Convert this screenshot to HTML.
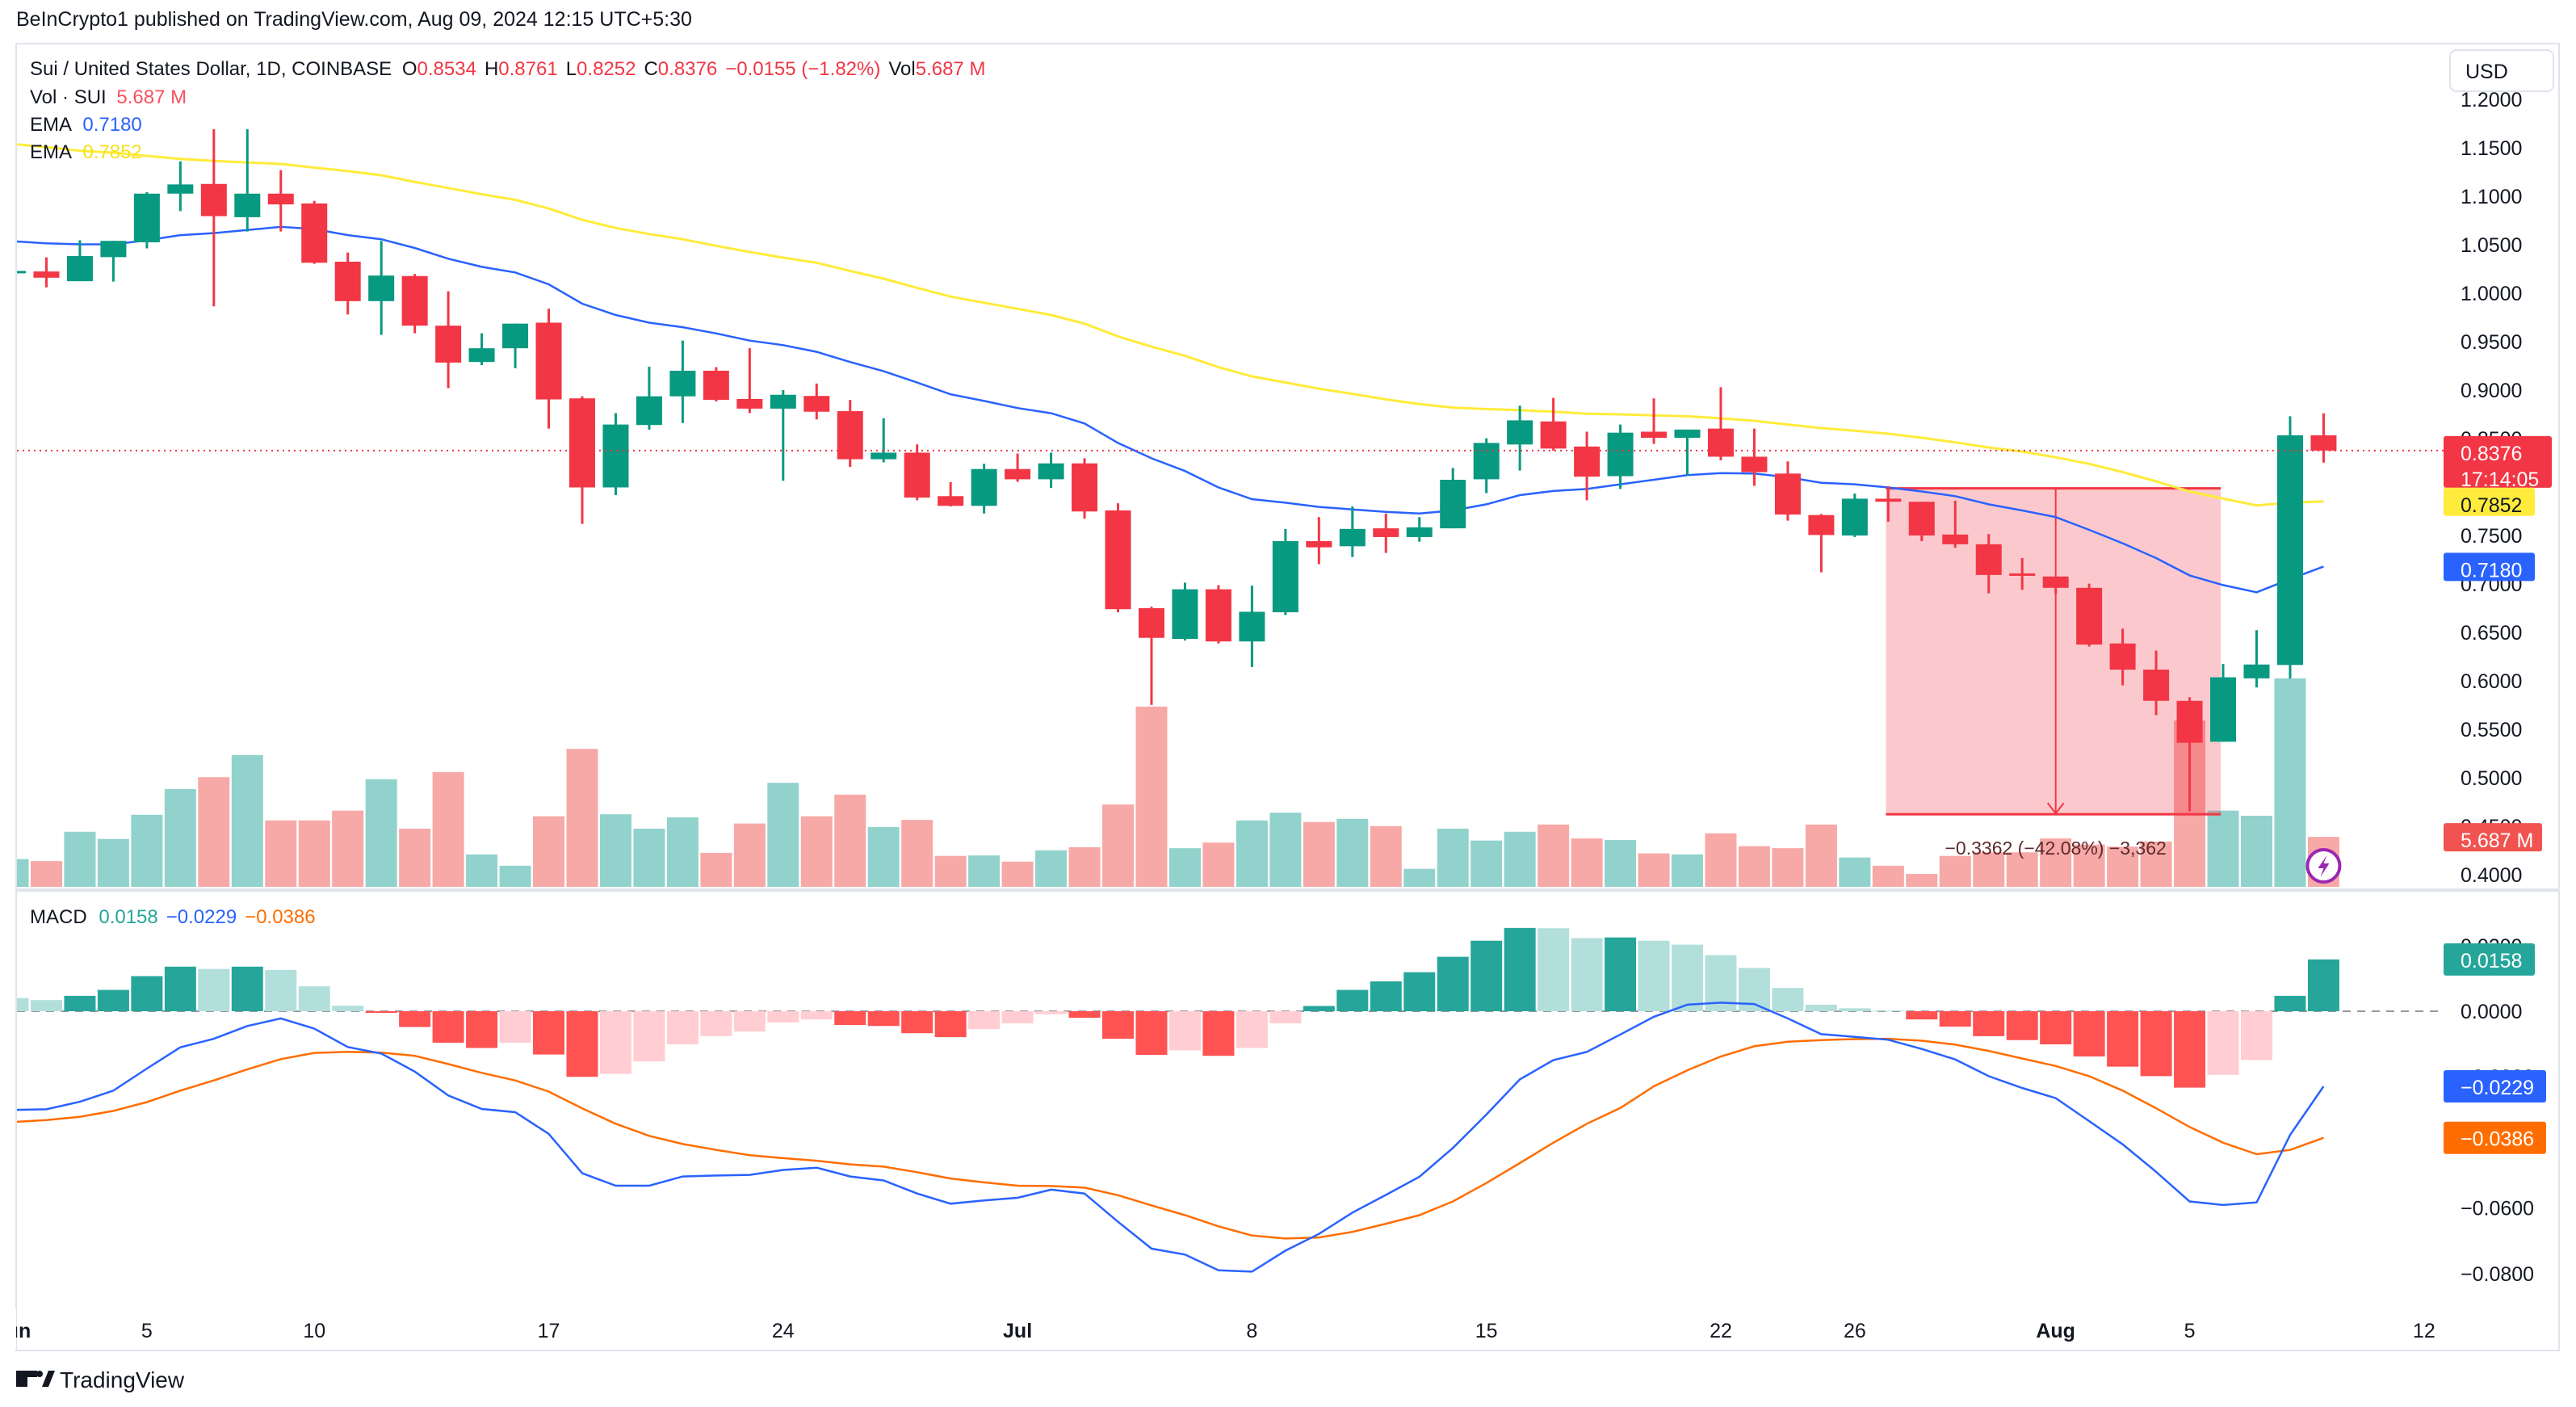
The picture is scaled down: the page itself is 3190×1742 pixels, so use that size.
<!DOCTYPE html>
<html><head><meta charset="utf-8"><title>SUI/USD chart</title>
<style>
html,body{margin:0;padding:0;background:#fff;}
svg{display:block;font-family:"Liberation Sans",sans-serif;}
</style></head>
<body>
<svg id="chart" width="3190" height="1742" viewBox="0 0 3190 1742" xmlns="http://www.w3.org/2000/svg">
<defs><clipPath id="plotClip"><rect x="21" y="55" width="3005" height="1550"/></clipPath></defs>
<rect x="0" y="0" width="3190" height="1742" fill="#ffffff"/>
<text x="20" y="32" font-size="25" fill="#131722">BeInCrypto1 published on TradingView.com, Aug 09, 2024 12:15 UTC+5:30</text>
<rect x="20" y="54" width="3149" height="1618" fill="none" stroke="#e0e3eb" stroke-width="2"/>
<rect x="21" y="1100" width="3148" height="4" fill="#e0e3eb"/>
<g id="plot" clip-path="url(#plotClip)"></g>
<g id="overlay"></g>
<g id="axes"></g>
<g font-size="24">
<text x="37" y="93" fill="#131722">Sui / United States Dollar, 1D, COINBASE <tspan dx="6">O</tspan><tspan fill="#f23645">0.8534</tspan><tspan dx="10">H</tspan><tspan fill="#f23645">0.8761</tspan><tspan dx="10">L</tspan><tspan fill="#f23645">0.8252</tspan><tspan dx="10">C</tspan><tspan fill="#f23645">0.8376</tspan><tspan dx="10" fill="#f23645">−0.0155 (−1.82%)</tspan><tspan dx="10">Vol</tspan><tspan fill="#f23645">5.687 M</tspan></text>
<text x="37" y="128" fill="#131722">Vol · SUI <tspan dx="6" fill="#f7525f">5.687 M</tspan></text>
<text x="37" y="162" fill="#131722">EMA <tspan dx="8" fill="#2962ff">0.7180</tspan></text>
<text x="37" y="196" fill="#131722">EMA <tspan dx="8" fill="#f5e11b">0.7852</tspan></text>
<text x="37" y="1143" fill="#131722">MACD <tspan dx="8" fill="#26a69a">0.0158</tspan><tspan dx="10" fill="#2962ff">−0.0229</tspan><tspan dx="10" fill="#ff6d00">−0.0386</tspan></text>
</g>
<g>
<rect x="3034" y="62" width="128" height="51" rx="8" fill="#fff" stroke="#e0e3eb" stroke-width="2"/>
<text x="3053" y="97" font-size="25" fill="#131722">USD</text>
</g>
<g>
<rect x="20" y="1697" width="14" height="20" fill="#131722"/>
<rect x="20" y="1697" width="26" height="8" fill="#131722"/>
<circle cx="49" cy="1701" r="4" fill="#131722"/>
<polygon points="52,1717 60,1697 68,1697 60,1717" fill="#131722"/>
<text x="74" y="1718" font-size="28" fill="#131722">TradingView</text>
</g>
</svg>
<script>
// ---- data (day index 0 = Jun 1, 2024) ----
var opens  = [1.021,1.0224,1.0124,1.0372,1.0525,1.1027,1.1127,1.0784,1.1027,1.0926,1.0325,0.9918,1.0177,0.9665,0.929,0.9432,0.9696,0.8915,0.7996,0.864,0.8936,0.92,0.8909,0.8809,0.894,0.8783,0.8287,0.8355,0.7906,0.7806,0.8186,0.808,0.8244,0.7759,0.675,0.6433,0.6945,0.6407,0.6708,0.7442,0.7389,0.7574,0.7484,0.7574,0.808,0.8439,0.8677,0.8418,0.8112,0.8571,0.8508,0.8603,0.8313,0.8139,0.7711,0.75,0.788,0.7848,0.751,0.741,0.7109,0.7077,0.696,0.6386,0.6116,0.5794,0.5372,0.6026,0.6164,0.8534];
var highs  = [1.025,1.037,1.0546,1.054,1.1043,1.136,1.1692,1.1692,1.127,1.0953,1.042,1.054,1.0198,1.002,0.9586,0.9686,0.984,0.8936,0.8762,0.9242,0.9511,0.9237,0.9432,0.90,0.9068,0.89,0.871,0.844,0.805,0.824,0.8345,0.8355,0.8297,0.7832,0.6766,0.7014,0.6988,0.6982,0.7568,0.769,0.78,0.7727,0.769,0.8197,0.8503,0.884,0.892,0.8571,0.8645,0.8915,0.8593,0.903,0.8603,0.8265,0.7722,0.7933,0.8007,0.7848,0.7859,0.7515,0.7267,0.7077,0.7003,0.6539,0.6312,0.5831,0.6174,0.6523,0.873,0.8761];
var lows   = [1.019,1.006,1.0124,1.012,1.0462,1.0847,0.9865,1.0636,1.0636,1.0303,0.978,0.957,0.9586,0.902,0.9258,0.9226,0.8603,0.762,0.7917,0.8593,0.866,0.8883,0.8762,0.8065,0.8698,0.8207,0.8255,0.7864,0.78,0.7727,0.8054,0.799,0.7674,0.6708,0.5752,0.6417,0.6386,0.6143,0.668,0.7204,0.7278,0.732,0.7436,0.7574,0.7938,0.817,0.8376,0.7864,0.798,0.8445,0.8117,0.8276,0.8012,0.7653,0.712,0.7484,0.7643,0.7442,0.7373,0.6903,0.694,0.69,0.6354,0.5953,0.5647,0.4654,0.5372,0.5932,0.6026,0.8252];
var closes = [1.023,1.016,1.0383,1.054,1.1027,1.1122,1.0795,1.1027,1.0916,1.0314,0.9918,1.0182,0.9665,0.9284,0.9432,0.9686,0.8904,0.7996,0.8645,0.8936,0.92,0.89,0.8809,0.8952,0.8777,0.8287,0.8355,0.7891,0.7806,0.8186,0.808,0.8244,0.7748,0.674,0.6444,0.6945,0.6407,0.6713,0.7442,0.7378,0.7568,0.7484,0.7584,0.8075,0.8455,0.8688,0.8397,0.8107,0.8561,0.8508,0.8593,0.8313,0.8154,0.7716,0.7505,0.788,0.7848,0.75,0.741,0.7093,0.7104,0.696,0.6375,0.6116,0.5794,0.5361,0.6037,0.6169,0.8534,0.8376];
var volumes = [3.16,2.93,6.27,5.45,8.2,11.13,12.48,15.0,7.56,7.56,8.67,12.25,6.62,13.07,3.69,2.4,8.03,15.7,8.26,6.62,7.91,3.87,7.21,11.84,8.03,10.49,6.8,7.62,3.52,3.57,2.87,4.16,4.51,9.38,20.51,4.4,5.04,7.56,8.44,7.38,7.74,6.91,2.05,6.62,5.27,6.27,7.09,5.51,5.33,3.81,3.69,6.09,4.63,4.4,7.09,3.34,2.4,1.47,3.52,3.93,3.93,5.51,4.81,4.57,5.16,18.93,8.67,8.09,23.73,5.687];
var emaFast = [1.0536,1.0515,1.0504,1.0504,1.0546,1.0599,1.062,1.0652,1.0684,1.0662,1.0599,1.0557,1.0467,1.0356,1.0272,1.0214,1.0092,0.9892,0.9775,0.9696,0.9649,0.9585,0.9511,0.9464,0.9395,0.929,0.9195,0.9078,0.8957,0.8888,0.8815,0.8762,0.8656,0.8455,0.8297,0.8165,0.7996,0.7875,0.7838,0.7795,0.7769,0.7743,0.7727,0.7758,0.7822,0.7917,0.7959,0.798,0.8028,0.8075,0.8123,0.8144,0.8139,0.8101,0.8044,0.8028,0.7996,0.7954,0.7906,0.7822,0.7758,0.769,0.7558,0.742,0.7267,0.7088,0.6988,0.6914,0.7051,0.718];
var emaSlow = [1.1539,1.1507,1.147,1.145,1.1417,1.1386,1.1365,1.1349,1.1333,1.1296,1.1259,1.1217,1.1148,1.1085,1.1021,1.0963,1.0874,1.0757,1.0673,1.061,1.0557,1.0488,1.0425,1.0367,1.0314,1.023,1.015,1.0055,0.9965,0.9902,0.9839,0.9775,0.9686,0.9554,0.9448,0.9353,0.9237,0.9142,0.9078,0.9015,0.8962,0.8904,0.8857,0.882,0.8804,0.8793,0.8777,0.8756,0.875,0.874,0.873,0.8709,0.8683,0.8645,0.8608,0.8582,0.855,0.8508,0.8461,0.8408,0.8366,0.8307,0.8239,0.8154,0.8059,0.7954,0.788,0.7811,0.7838,0.7852];
var histValues = [0.004,0.0034,0.0047,0.0065,0.0107,0.0136,0.0129,0.0136,0.0126,0.0076,0.0017,-0.0005,-0.0048,-0.0096,-0.0112,-0.0096,-0.0132,-0.02,-0.0191,-0.0153,-0.0101,-0.0076,-0.0062,-0.0034,-0.0025,-0.0042,-0.0045,-0.0067,-0.0079,-0.0054,-0.0037,-0.0009,-0.002,-0.0084,-0.0133,-0.0119,-0.0136,-0.0112,-0.0037,0.0016,0.0065,0.0091,0.0119,0.0166,0.0215,0.0254,0.0253,0.0223,0.0225,0.0215,0.0203,0.0171,0.0132,0.0071,0.002,0.0009,0.0002,-0.0025,-0.0047,-0.0076,-0.0088,-0.0101,-0.0138,-0.0169,-0.0198,-0.0233,-0.0194,-0.0149,0.0047,0.0158];
var macdValues = [-0.0301,-0.0299,-0.0276,-0.0242,-0.0175,-0.011,-0.0084,-0.0045,-0.0022,-0.0053,-0.0109,-0.0129,-0.0184,-0.0257,-0.0298,-0.0308,-0.0374,-0.0494,-0.0532,-0.0532,-0.0504,-0.0501,-0.0499,-0.0484,-0.0477,-0.0504,-0.0516,-0.0556,-0.0587,-0.0577,-0.0569,-0.0544,-0.0556,-0.0642,-0.0724,-0.0742,-0.079,-0.0794,-0.073,-0.0679,-0.0614,-0.056,-0.0505,-0.0417,-0.0315,-0.0208,-0.0149,-0.0124,-0.0071,-0.0017,0.002,0.0026,0.0022,-0.0022,-0.007,-0.0078,-0.0087,-0.0115,-0.0147,-0.0198,-0.0234,-0.0265,-0.0335,-0.0406,-0.049,-0.058,-0.0591,-0.0583,-0.0377,-0.0229];
var signalValues = [-0.0338,-0.0332,-0.0322,-0.0304,-0.0277,-0.0242,-0.0211,-0.0177,-0.0146,-0.0127,-0.0124,-0.0126,-0.0136,-0.0161,-0.0188,-0.0211,-0.0245,-0.0296,-0.0343,-0.038,-0.0405,-0.0423,-0.0439,-0.0448,-0.0456,-0.0467,-0.0474,-0.0491,-0.051,-0.0522,-0.0532,-0.0533,-0.0538,-0.0561,-0.0592,-0.0622,-0.0656,-0.0684,-0.0693,-0.069,-0.0673,-0.0648,-0.0622,-0.058,-0.0524,-0.0463,-0.0401,-0.0343,-0.0295,-0.0229,-0.018,-0.0138,-0.0107,-0.0093,-0.0088,-0.0085,-0.0084,-0.009,-0.0102,-0.0121,-0.0144,-0.0167,-0.0198,-0.0242,-0.0296,-0.0353,-0.0401,-0.0436,-0.0423,-0.0386];
var priceTicks = [0.40,0.45,0.50,0.55,0.60,0.65,0.70,0.75,0.80,0.85,0.90,0.95,1.00,1.05,1.10,1.15,1.20];
var macdTicks = [0.02,0,-0.02,-0.04,-0.06,-0.08];
var timeLabelDays = [0,4,9,16,23,30,37,44,51,55,61,65,72];
var timeLabels = ["Jun","5","10","17","24","Jul","8","15","22","26","Aug","5","12"];
var measureStart = 55.93, measureEnd = 65.93, measureTop = 0.7986, measureBottom = 0.4624, measureArrowDay = 61.0;

// ---- axis functions ----
function xD(d){ return 16 + 41.47*d; }
function yP(p){ return 1083 - (p-0.4)*1200; }
function yV(v){ return 1098 - v*10.88; }
function yM(v){ return 1252 - v*4060; }
function fmtM(v){ return (v<0?'\u2212':'') + Math.abs(v).toFixed(4); }

var NS='http://www.w3.org/2000/svg';
function mk(tag, attrs, parent){
  var e=document.createElementNS(NS,tag);
  for(var k in attrs) e.setAttribute(k, attrs[k]);
  parent.appendChild(e); return e;
}
var plot=document.getElementById('plot');
var overlay=document.getElementById('overlay');
var axes=document.getElementById('axes');

// volume bars
for(var i=0;i<volumes.length;i++){
  var up=closes[i]>=opens[i];
  var b=mk('rect',{x:xD(i)-19.5,y:yV(volumes[i]),width:39,height:1098-yV(volumes[i]),fill:up?'#92d2cc':'#f7a9a7'},plot);
  
  
}
// measurement box (under candles)
var mbox=mk('rect',{x:xD(measureStart),y:yP(measureTop),width:xD(measureEnd)-xD(measureStart),height:yP(measureBottom)-yP(measureTop),fill:'rgba(242,54,69,0.27)'},plot);


mk('line',{x1:xD(measureStart),x2:xD(measureEnd),y1:yP(measureTop),y2:yP(measureTop),stroke:'#f23645','stroke-width':3},plot);
mk('line',{x1:xD(measureStart),x2:xD(measureEnd),y1:yP(measureBottom),y2:yP(measureBottom),stroke:'#f23645','stroke-width':3},plot);
mk('line',{x1:xD(measureArrowDay),x2:xD(measureArrowDay),y1:yP(measureTop),y2:yP(measureBottom),stroke:'#f23645','stroke-width':2},plot);
mk('polyline',{points:(xD(measureArrowDay)-10)+','+(yP(measureBottom)-14)+' '+xD(measureArrowDay)+','+(yP(measureBottom)-1)+' '+(xD(measureArrowDay)+10)+','+(yP(measureBottom)-14),fill:'none',stroke:'#f23645','stroke-width':2},plot);
var mt=mk('text',{x:xD(measureArrowDay),y:yP(measureBottom)+50,'font-size':23,'text-anchor':'middle',fill:'#5d2a2a'},plot);
mt.textContent='\u22120.3362 (\u221242.08%) \u22123,362';



// EMA lines
function linePath(arr, yf){ var s=''; for(var i=0;i<arr.length;i++){ s+=(i?'L':'M')+xD(i).toFixed(1)+','+yf(arr[i]).toFixed(1);} return s; }
var es=mk('path',{d:linePath(emaSlow,yP),fill:'none',stroke:'#ffeb3b','stroke-width':3},plot);


var ef=mk('path',{d:linePath(emaFast,yP),fill:'none',stroke:'#2962ff','stroke-width':2.5},plot);



// candles
for(var i=0;i<opens.length;i++){
  var up=closes[i]>=opens[i], col=up?'#089981':'#f23645';
  var g=mk('g',{},plot);
  
  
  mk('line',{x1:xD(i),x2:xD(i),y1:yP(highs[i]),y2:yP(lows[i]),stroke:col,'stroke-width':3},g);
  var bodyTop=yP(Math.max(opens[i],closes[i])), bodyBot=yP(Math.min(opens[i],closes[i]));
  mk('rect',{x:xD(i)-16,y:bodyTop,width:32,height:Math.max(bodyBot-bodyTop,3),fill:col},g);
}
// last price line
var lp=mk('line',{x1:21,x2:3026,y1:yP(closes[closes.length-1]),y2:yP(closes[closes.length-1]),stroke:'#f23645','stroke-width':2,'stroke-dasharray':'2,5'},plot);



// MACD zero line
var zl=mk('line',{x1:21,x2:3026,y1:yM(0),y2:yM(0),stroke:'#9598a1','stroke-width':2,'stroke-dasharray':'10,8'},plot);


// histogram
for(var i=0;i<histValues.length;i++){
  var v=histValues[i], prev=i>0?histValues[i-1]:v+0.001, col;
  if(v>=0) col = v>=prev ? '#26a69a' : '#b2dfdb';
  else col = v<=prev ? '#ff5252' : '#ffcdd2';
  var y0=Math.min(yM(v),yM(0)), h=Math.abs(yM(v)-yM(0));
  var hb=mk('rect',{x:xD(i)-19.5,y:y0,width:39,height:Math.max(h,1),fill:col},plot);
  
  
}
var sl=mk('path',{d:linePath(signalValues,yM),fill:'none',stroke:'#ff6d00','stroke-width':2.5},plot);


var ml=mk('path',{d:linePath(macdValues,yM),fill:'none',stroke:'#2962ff','stroke-width':2.5},plot);



// lightning icon
var li=mk('g',{},overlay);


mk('circle',{cx:xD(69),cy:1072,r:20,fill:'#fff',stroke:'#9c27b0','stroke-width':4},li);
mk('polygon',{points:(xD(69)+4)+',1059 '+(xD(69)-7)+',1075 '+(xD(69))+',1075 '+(xD(69)-4)+',1086 '+(xD(69)+7)+',1069 '+(xD(69))+',1069',fill:'#9c27b0'},li);

// price axis ticks
for(var i=0;i<priceTicks.length;i++){
  var t=mk('text',{x:3047,y:yP(priceTicks[i])+9,'font-size':25,fill:'#131722'},axes);
  t.textContent=priceTicks[i].toFixed(4);
  
  
}
for(var i=0;i<macdTicks.length;i++){
  var t=mk('text',{x:3047,y:yM(macdTicks[i])+9,'font-size':25,fill:'#131722'},axes);
  t.textContent=fmtM(macdTicks[i]);
  
  
}
// time axis
for(var i=0;i<timeLabels.length;i++){
  var bold=(timeLabels[i]==='Jul'||timeLabels[i]==='Aug'||timeLabels[i]==='Jun');
  var t=mk('text',{x:xD(timeLabelDays[i]),y:1656,'font-size':25,'text-anchor':'middle',fill:'#131722','font-weight':bold?'bold':'normal'},axes);
  t.textContent=timeLabels[i];
  
  
}
// cover left of frame for cut "Jun"
mk('rect',{x:0,y:1620,width:20,height:50,fill:'#fff'},axes);

// axis value boxes
function box(name,y,h,w,fill,txtCol,lines){
  var g=mk('g',{},axes);
  
  
  mk('rect',{x:3026,y:y,width:w,height:h,rx:3,fill:fill},g);
  for(var j=0;j<lines.length;j++){
    var t=mk('text',{x:3047,y:y+30+j*32,'font-size':25,fill:txtCol},g);
    t.textContent=lines[j];
  }
}
var lastC=closes[closes.length-1];
box('last-price-box',yP(lastC)-18,64,134,'#f23645','#fff',[lastC.toFixed(4),'17:14:05']);
box('ema-slow-box',yP(emaSlow[emaSlow.length-1])-17,35,113,'#ffeb3b','#131722',[emaSlow[emaSlow.length-1].toFixed(4)]);
box('ema-fast-box',yP(emaFast[emaFast.length-1])-17,35,113,'#2962ff','#fff',[emaFast[emaFast.length-1].toFixed(4)]);
box('volume-box',yV(volumes[volumes.length-1])-17,35,122,'#f05350','#fff',[volumes[volumes.length-1].toFixed(3)+' M']);
box('macd-hist-box',yM(histValues[histValues.length-1])-20,40,113,'#26a69a','#fff',[fmtM(histValues[histValues.length-1])]);
box('macd-line-box',yM(macdValues[macdValues.length-1])-20,40,127,'#2962ff','#fff',[fmtM(macdValues[macdValues.length-1])]);
box('macd-signal-box',yM(signalValues[signalValues.length-1])-20,40,127,'#ff6d00','#fff',[fmtM(signalValues[signalValues.length-1])]);
</script>
</body></html>
